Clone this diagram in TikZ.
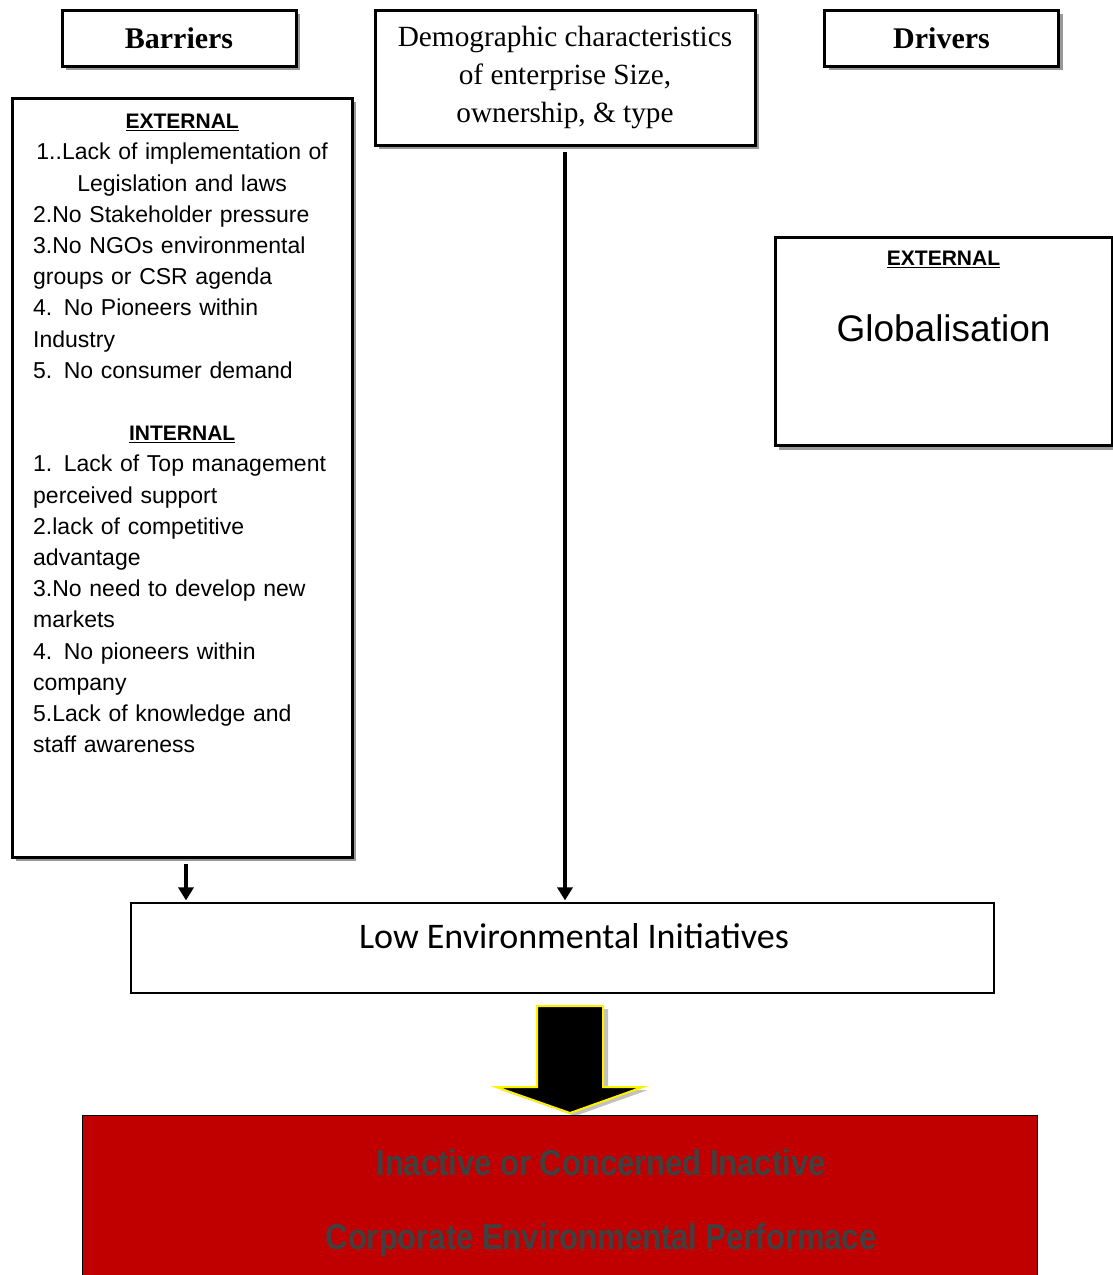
\documentclass[tikz,border=0pt]{standalone}
\usepackage{fontspec}
\usetikzlibrary{positioning,shadows,arrows.meta}

\newfontfamily\serifface{Liberation Serif}
\newfontfamily\arialface{Liberation Sans}
\newfontfamily\calibriface{Carlito}
\newfontfamily\narrowface[FakeStretch=0.86]{Liberation Sans}

\definecolor{perfred}{HTML}{C00000}
\definecolor{perfgray}{HTML}{404040}

\newcommand*{\picw}{1113}
\newcommand*{\pich}{1275}

\begin{document}
\begin{tikzpicture}
[
	x=1pt, y=-1pt,
	box/.style={rectangle,draw,line width=3pt,fill=white,inner sep=0pt,
		drop shadow={shadow xshift=4pt,shadow yshift=-4pt,fill=black!50,opacity=0.8}},
	titlebox/.style={box,minimum width=234pt,minimum height=56pt,
		font=\serifface\bfseries\fontsize{30}{34}\selectfont},
	listtext/.style={align=left,text width=298pt,inner sep=0pt,
		font=\arialface\fontsize{23}{31.2}\selectfont},
	listhead/.style={inner sep=0pt,font=\arialface\bfseries\fontsize{21}{31.2}\selectfont},
	flow/.style={-{Triangle[width=15pt,length=13pt]},line width=3.5pt}
]

	\useasboundingbox (0,0) rectangle (\picw,\pich);

	% top row
	\node[titlebox] (barriers) at (179,38) {Barriers};
	\node[titlebox] (drivers) at (941.5,38) {Drivers};
	\node[box,minimum width=380pt,minimum height=135pt,align=center,
		font=\serifface\fontsize{29.3}{38}\selectfont] (demog) at (565,77.5)
		{Demographic characteristics\\of enterprise Size,\\ownership, \& type};

	% barriers list
	\node[box,minimum width=340pt,minimum height=759pt] (barlist) at (182,477.5) {};
	\node[listtext,anchor=north west] (barinfo) at (33,114) {%
		\makebox[\linewidth]{\fontsize{21}{31.2}\selectfont\underline{\textbf{EXTERNAL}}}\\
		\makebox[\linewidth]{1..Lack of implementation of}\\
		\makebox[\linewidth]{Legislation and laws}\\
		2.No Stakeholder pressure\\
		3.No NGOs environmental\\
		groups or CSR agenda\\
		4. No Pioneers within\\
		Industry\\
		5. No consumer demand\\
		\mbox{}\\
		\makebox[\linewidth]{\fontsize{21}{31.2}\selectfont\underline{\textbf{INTERNAL}}}\\
		1. Lack of Top management\\
		perceived support\\
		2.lack of competitive\\
		advantage\\
		3.No need to develop new\\
		markets\\
		4. No pioneers within\\
		company\\
		5.Lack of knowledge and\\
		staff awareness};

	% drivers
	\node[box,minimum width=337pt,minimum height=208pt,anchor=north] (glob) at (943.5,236) {};
	\node[listhead,below=15pt of glob.north] (globhead) {\underline{EXTERNAL}};
	\node[inner sep=0pt,below=47pt of globhead,font=\arialface\fontsize{37}{40}\selectfont] (globname) {Globalisation};

	% initiatives
	\node[draw,line width=1.2pt,inner sep=0pt,minimum width=863pt,
		text height=45.5pt,text depth=44.5pt,
		font=\calibriface\fontsize{36}{40}\selectfont] (low) at (562.5,948) {\hspace*{23pt}Low Environmental Initiatives};

	\draw[flow,shorten <=5pt,shorten >=2pt] ([xshift=4pt]barlist.south) -- ([xshift=4pt]barlist.south |- low.north);
	\draw[flow,shorten <=5pt,shorten >=2pt] (demog.south) -- (demog.south |- low.north);

	% block arrow
	\filldraw[fill=black,draw=yellow,line width=2pt,line join=miter,
		drop shadow={shadow xshift=5pt,shadow yshift=-3pt,fill=black!30,opacity=0.8}]
		(537,1006) -- (603,1006) -- (603,1087) -- (643,1087) -- (570,1113)
		-- (496,1087) -- (537,1087) -- cycle;

	% performance
	\node[draw,line width=1pt,fill=perfred,minimum width=955pt,minimum height=170pt] (perf) at (559.5,1200) {};
	\node[align=center,inner sep=0pt,text=perfgray,
		font=\narrowface\bfseries\fontsize{36}{74}\selectfont] (perflabel) at (601,1203)
		{Inactive or Concerned Inactive\\Corporate Environmental Performace};

\end{tikzpicture}
\end{document}
